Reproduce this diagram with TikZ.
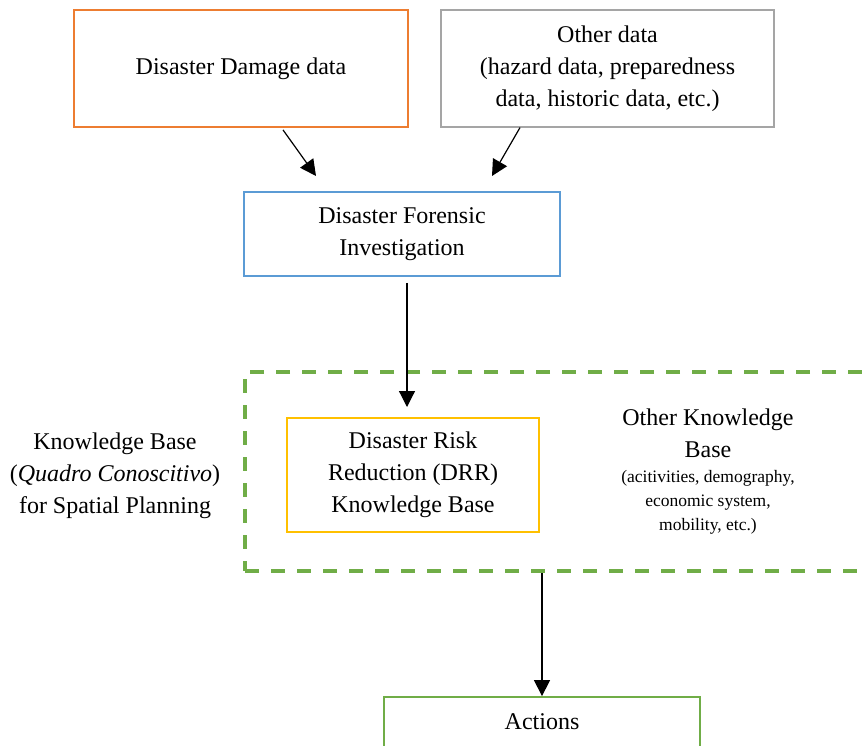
\documentclass[tikz,border=0pt]{standalone}
\usepackage{fontspec}
\setmainfont{Liberation Serif}
\usepackage{xcolor}
\usetikzlibrary{arrows.meta, positioning}

\definecolor{dmgorange}{HTML}{ED7D31}
\definecolor{othergray}{HTML}{A5A5A5}
\definecolor{forblue}{HTML}{5B9BD5}
\definecolor{drrgold}{HTML}{FFC000}
\definecolor{kbgreen}{HTML}{70AD47}

\begin{document}
\begin{tikzpicture}[
  x=1pt, y=-1pt,
  box/.style={rectangle, draw, line width=1.8pt, text centered, align=center,
              font=\fontsize{24}{32}\selectfont, inner sep=0pt},
  label/.style={text centered, align=center, font=\fontsize{24}{32}\selectfont},
  note/.style={text centered, align=center, font=\fontsize{17.5}{24}\selectfont},
  arr/.style={-{Triangle[length=16pt, width=16pt]}, line width=1.2pt}
]
  \useasboundingbox (0,0) rectangle (862,745);
  \clip (0,0) rectangle (862,745);

  % top row
  \node[box, draw=dmgorange, minimum width=334pt, minimum height=117pt] (damage) at (241,68.5) {Disaster Damage data};
  \node[box, draw=othergray, line width=1.2pt, minimum width=333pt, minimum height=117pt] (other) at (607.5,68.5)
       {Other data\\(hazard data, preparedness\\data, historic data, etc.)};
  \node[box, draw=forblue, minimum width=316pt, minimum height=84pt] (forensic) at (402,234)
       {Disaster Forensic\\Investigation};

  % knowledge base
  \node[rectangle, draw=kbgreen, line width=4pt, dash pattern=on 14pt off 12pt,
        minimum width=625pt, minimum height=199pt] (kb) at (557.5,471.5) {};
  \node[box, draw=drrgold, minimum width=252pt, minimum height=114pt] (drr) at (413,475)
       {Disaster Risk\\Reduction (DRR)\\Knowledge Base};
  \node[label] (okb) at (708,433) {Other Knowledge\\Base};
  \node[note, below=6pt of okb] (okbnote) {(acitivities, demography,\\economic system,\\mobility, etc.)};
  \node[label] (kbplan) at (115,476) {Knowledge Base\\(\textit{Quadro Conoscitivo})\\for Spatial Planning};

  \node[box, draw=kbgreen, minimum width=316pt, minimum height=100pt] (actions) at (542,747) {};
  \node[label] (actlabel) at (542,722) {Actions};

  \coordinate (fin1) at (316,176);
  \coordinate (fin2) at (492,176);
  \coordinate (drrin) at (407,407);

  \draw[arr] ([xshift=42pt,yshift=-2pt]damage.south) -- (fin1);
  \draw[arr] ([xshift=-87.5pt]other.south) -- (fin2);
  \draw[arr] ([xshift=5pt,yshift=-6pt]forensic.south) -- (drrin);
  \draw[arr] (actions.north |- kb.south) -- (actions.north);
\end{tikzpicture}
\end{document}
